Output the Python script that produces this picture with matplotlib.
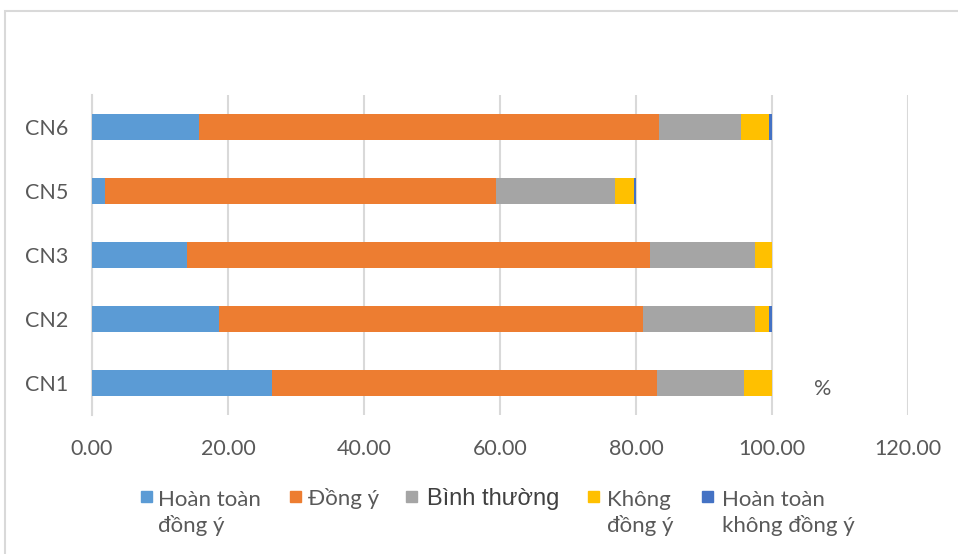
import numpy as np
import matplotlib.pyplot as plt
from matplotlib.patches import Rectangle

categories = ["CN1", "CN2", "CN3", "CN5", "CN6"]
series_names = ["Hoàn toàn\nđồng ý", "Đồng ý", "Bình thường", "Không\nđồng ý",
                "Hoàn toàn\nkhông đồng ý"]
hoan_toan_dong_y = [26.4, 18.7, 14.0, 1.95, 15.75]
dong_y = [56.7, 62.4, 68.0, 57.45, 67.7]
binh_thuong = [12.8, 16.4, 15.5, 17.5, 12.05]
khong_dong_y = [4.1, 2.1, 2.5, 2.8, 4.1]
hoan_toan_khong = [0.0, 0.4, 0.0, 0.3, 0.4]
xticks = [0, 20, 40, 60, 80, 100, 120]

colors = ["#5b9bd5", "#ed7d31", "#a5a5a5", "#ffc000", "#4472c4"]
text_gray = "#595959"
font = "Lato"

W, H = 958, 554
fig = plt.figure(figsize=(W / 100, H / 100), dpi=100)

# outer chart border
fig.patches.append(Rectangle((5 / W, -0.1), 1.1, (H - 11) / H + 0.1,
                             transform=fig.transFigure, fill=False,
                             edgecolor="#d9d9d9", linewidth=1.5))

ax = fig.add_axes([92 / W, (H - 415) / H, (908 - 92) / W, 320 / H])

data = [hoan_toan_dong_y, dong_y, binh_thuong, khong_dong_y, hoan_toan_khong]
y = np.arange(len(categories))
left = np.zeros(len(categories))
for vals, c in zip(data, colors):
    ax.barh(y, vals, left=left, height=0.41, color=c, zorder=3)
    left += np.array(vals)

ax.set_xlim(0, 120)
ax.set_ylim(-0.5, 4.5)
ax.set_xticks(xticks)
ax.set_xticklabels([f"{v:.2f}" for v in xticks], fontsize=15.5, color=text_gray,
                   family=font)
ax.set_yticks(y)
ax.set_yticklabels(categories, fontsize=15.5, color=text_gray, family=font)
ax.tick_params(axis="x", length=0, pad=17)
ax.tick_params(axis="y", length=0, pad=17)
ax.grid(axis="x", color="#d9d9d9", linewidth=1.5, zorder=0)
for s in ["top", "right", "bottom"]:
    ax.spines[s].set_visible(False)
ax.spines["left"].set_color("#d9d9d9")
ax.spines["left"].set_linewidth(1.5)

ax.text(107.5, -0.1, "%", fontsize=15.5, color=text_gray, family=font,
        ha="center", va="center")

# legend drawn by hand; baseline of the last line is placed, so two-line
# labels go one line lower
sq_x = [141, 290, 406, 588, 702]
txt_x = [158, 308, 427, 607, 722]
for i, name in enumerate(series_names):
    fig.patches.append(Rectangle((sq_x[i] / W, (H - 502) / H), 11 / W, 11 / H,
                                 transform=fig.transFigure, color=colors[i]))
    base = 505 + 27 * name.count("\n")
    if name == "Bình thường":
        fig.text(txt_x[i] / W, (H - base) / H, name, fontsize=17,
                 family="Liberation Sans", color="#404040", va="baseline",
                 ha="left")
    else:
        fig.text(txt_x[i] / W, (H - base) / H, name, fontsize=16, family=font,
                 color=text_gray, va="baseline", ha="left", linespacing=1.32)

fig.savefig("out.png", dpi=100)
